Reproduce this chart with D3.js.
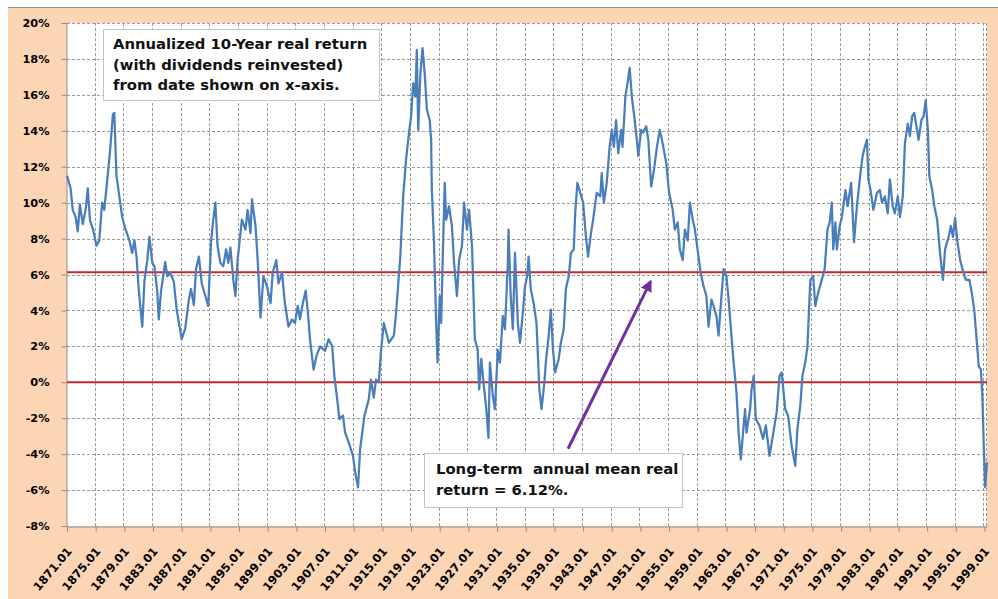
<!DOCTYPE html>
<html>
<head>
<meta charset="utf-8">
<script src="https://cdn.jsdelivr.net/npm/d3@7"></script>
<style>
  body { margin: 0; background: #fff; }
  svg { display: block; }
  .tick text { font-family: "DejaVu Sans", sans-serif; font-weight: bold; fill: #000; }
  .note { font-family: "DejaVu Sans", sans-serif; font-weight: bold; font-size: 14.8px; fill: #111; white-space: pre; }
</style>
</head>
<body>
<script>
// annualized 10-year real return (year, percent)
var years = [
  1871.0, 1871.5, 1871.8, 1872.2, 1872.5, 1872.8, 1873.2, 1873.6, 1873.9, 1874.2,
  1874.7, 1875.1, 1875.5, 1875.9, 1876.2, 1876.8, 1877.0, 1877.4, 1877.6, 1877.9,
  1878.3, 1878.7, 1879.1, 1879.7, 1880.1, 1880.4, 1880.7, 1881.0, 1881.5, 1881.8,
  1882.2, 1882.5, 1882.9, 1883.2, 1883.6, 1883.8, 1884.1, 1884.7, 1885.0, 1885.4,
  1885.9, 1886.3, 1886.7, 1887.0, 1887.5, 1888.0, 1888.3, 1888.7, 1889.0, 1889.4,
  1889.8, 1890.3, 1890.7, 1891.1, 1891.4, 1891.7, 1892.0, 1892.4, 1892.8, 1893.2,
  1893.5, 1893.8, 1894.2, 1894.5, 1894.8, 1895.2, 1895.4, 1895.9, 1896.2, 1896.6,
  1896.8, 1897.3, 1897.6, 1898.0, 1898.4, 1898.9, 1899.4, 1899.7, 1900.2, 1900.5,
  1901.0, 1901.4, 1901.9, 1902.4, 1902.8, 1903.2, 1903.5, 1903.9, 1904.3, 1904.6,
  1904.9, 1905.4, 1905.8, 1906.3, 1907.0, 1907.5, 1908.0, 1908.3, 1908.7, 1909.0,
  1909.5, 1909.8, 1910.3, 1910.9, 1911.2, 1911.6, 1911.9, 1912.5, 1913.1, 1913.4,
  1913.8, 1914.1, 1914.5, 1914.8, 1915.2, 1915.9, 1916.6, 1916.9, 1917.5, 1917.9,
  1918.3, 1918.6, 1919.0, 1919.3, 1919.6, 1919.8, 1920.0, 1920.3, 1920.6, 1920.9,
  1921.2, 1921.6, 1921.8, 1921.9, 1922.2, 1922.5, 1922.7, 1923.0, 1923.2, 1923.4,
  1923.7, 1923.9, 1924.3, 1924.7, 1925.0, 1925.4, 1925.7, 1926.1, 1926.4, 1926.8,
  1927.1, 1927.5, 1927.9, 1928.3, 1928.5, 1928.8, 1929.1, 1929.5, 1929.8, 1930.0,
  1930.4, 1930.7, 1931.1, 1931.4, 1931.8, 1932.1, 1932.5, 1932.6, 1932.9, 1933.2,
  1933.5, 1933.9, 1934.2, 1934.6, 1934.9, 1935.2, 1935.4, 1935.7, 1936.1, 1936.5,
  1936.9, 1937.2, 1937.6, 1937.8, 1938.2, 1938.5, 1938.8, 1939.1, 1939.6, 1939.9,
  1940.3, 1940.6, 1941.0, 1941.3, 1941.7, 1941.9, 1942.2, 1942.6, 1943.0, 1943.4,
  1943.7, 1944.1, 1944.4, 1944.9, 1945.4, 1945.6, 1945.9, 1946.3, 1946.7, 1947.0,
  1947.3, 1947.6, 1947.9, 1948.3, 1948.5, 1948.9, 1949.2, 1949.5, 1949.8, 1950.2,
  1950.5, 1950.7, 1951.1, 1951.4, 1951.8, 1952.1, 1952.5, 1952.9, 1953.3, 1953.7,
  1954.1, 1954.6, 1955.0, 1955.5, 1955.8, 1956.2, 1956.5, 1956.9, 1957.2, 1957.6,
  1957.9, 1958.3, 1958.6, 1959.1, 1959.4, 1959.8, 1960.2, 1960.5, 1960.9, 1961.2,
  1961.6, 1961.9, 1962.2, 1962.6, 1963.0, 1963.3, 1963.6, 1964.0, 1964.4, 1964.7,
  1965.0, 1965.4, 1965.6, 1965.8, 1966.3, 1966.5, 1966.8, 1967.1, 1967.6, 1968.1,
  1968.5, 1969.0, 1969.4, 1970.0, 1970.4, 1970.7, 1971.2, 1971.6, 1972.1, 1972.6,
  1972.9, 1973.3, 1973.6, 1974.0, 1974.3, 1974.7, 1975.1, 1975.4, 1975.8, 1976.3,
  1976.7, 1977.1, 1977.4, 1977.7, 1977.9, 1978.2, 1978.4, 1978.8, 1979.1, 1979.6,
  1979.9, 1980.4, 1980.8, 1981.2, 1981.7, 1982.0, 1982.3, 1982.6, 1982.8, 1983.1,
  1983.5, 1984.0, 1984.4, 1984.7, 1985.1, 1985.5, 1985.8, 1986.2, 1986.5, 1986.9,
  1987.2, 1987.6, 1987.9, 1988.3, 1988.6, 1988.9, 1989.2, 1989.6, 1989.8, 1990.2,
  1990.5, 1990.8, 1991.1, 1991.3, 1991.7, 1992.0, 1992.4, 1992.8, 1993.2, 1993.5,
  1994.0, 1994.3, 1994.6, 1994.9, 1995.2, 1995.6, 1996.0, 1996.4, 1996.9, 1997.3,
  1997.6, 1997.9, 1998.2, 1998.5, 1998.7, 1998.9, 1999.1, 1999.35
];
var returns = [
  11.5, 10.8, 9.6, 9.2, 8.4, 9.9, 8.8, 9.6, 10.8, 9.05,
  8.4, 7.6, 7.9, 10.0, 9.6, 12.0, 12.85, 14.9, 15.0, 11.5,
  10.35, 9.2, 8.6, 7.9, 7.2, 7.9, 7.0, 5.2, 3.1, 5.6,
  6.8, 8.1, 6.65, 6.45, 5.0, 3.5, 5.0, 6.7, 5.9, 6.1,
  5.6, 4.05, 3.1, 2.4, 3.0, 4.6, 5.2, 4.3, 6.3, 7.0,
  5.5, 4.8, 4.25, 7.8, 9.05, 10.0, 7.6, 6.65, 6.45, 7.4,
  6.65, 7.5, 5.7, 4.8, 6.8, 8.3, 9.05, 8.5, 9.6, 8.3,
  10.2, 8.7, 6.8, 3.6, 5.9, 5.35, 4.4, 6.1, 6.8, 5.5,
  6.1, 4.4, 3.1, 3.5, 3.3, 4.25, 3.5, 4.4, 5.1, 3.9,
  2.4, 0.7, 1.45, 2.0, 1.75, 2.4, 2.0, 0.35, -0.95, -2.05,
  -1.85, -2.8, -3.35, -4.1, -5.0, -5.85, -3.7, -1.85, -0.95, 0.15,
  -0.85, 0.15, 0.0, 1.7, 3.3, 2.2, 2.6, 3.8, 7.0, 10.35,
  12.4, 13.5, 14.8, 16.65, 15.9, 18.5, 14.05, 17.2, 18.6, 17.2,
  15.2, 14.6, 13.5, 10.7, 7.8, 3.3, 1.1, 4.8, 3.3, 6.65,
  11.1, 9.05, 9.8, 8.7, 6.65, 4.8, 6.8, 7.6, 10.0, 8.5,
  9.6, 7.6, 2.4, 1.8, -0.4, 1.3, 0.0, -1.5, -3.1, 1.1,
  -0.75, -1.5, 1.8, 1.1, 3.7, 2.95, 6.65, 8.5, 4.8, 2.95,
  7.2, 3.3, 2.2, 3.9, 5.35, 5.9, 7.0, 5.2, 4.4, 3.3,
  -0.4, -1.5, 0.0, 1.1, 2.6, 4.05, 1.8, 0.55, 1.3, 2.2,
  2.95, 5.2, 5.9, 7.2, 7.4, 9.4, 11.1, 10.55, 10.0, 8.1,
  7.0, 8.3, 9.05, 10.55, 10.35, 11.65, 10.0, 11.1, 13.1, 14.05,
  13.1, 14.6, 12.75, 14.05, 13.1, 15.9, 16.65, 17.5, 15.9, 14.6,
  13.5, 12.6, 14.05, 13.9, 14.25, 13.5, 10.9, 11.85, 13.1, 14.05,
  13.3, 12.2, 10.55, 9.6, 8.5, 8.9, 7.4, 6.8, 8.5, 7.9,
  10.0, 9.05, 8.5, 7.0, 6.1, 5.35, 4.8, 3.1, 4.6, 4.25,
  3.7, 2.6, 4.25, 6.3, 5.9, 4.6, 3.1, 1.1, -0.55, -2.8,
  -4.3, -2.4, -1.5, -2.8, -1.5, -0.4, 0.35, -2.05, -2.4, -3.15,
  -2.4, -4.1, -3.15, -1.7, 0.35, 0.55, -1.5, -1.85, -3.55, -4.65,
  -2.6, -1.3, 0.35, 1.1, 2.0, 5.7, 5.9, 4.25, 5.0, 5.7,
  6.3, 8.5, 8.9, 10.0, 7.4, 8.9, 7.4, 8.7, 9.2, 10.7,
  9.8, 11.1, 7.8, 9.8, 11.65, 12.6, 13.1, 13.5, 11.3, 10.7,
  9.6, 10.55, 10.7, 10.0, 10.35, 9.4, 11.3, 9.8, 9.4, 10.35,
  9.2, 10.35, 13.3, 14.4, 13.7, 14.8, 15.0, 14.05, 13.5, 14.6,
  14.8, 15.7, 14.05, 11.5, 10.7, 9.8, 9.05, 7.2, 5.7, 7.4,
  8.1, 8.7, 8.1, 9.15, 7.9, 6.8, 6.2, 5.7, 5.7, 4.8,
  3.9, 2.4, 0.9, 0.7, -0.75, -3.55, -5.85, -4.45
];
var tickYears = d3.range(1871, 2000, 4);
var yTicks = d3.range(-8, 21, 2);
var meanReturn = 6.12;
var note1 = ["Annualized 10-Year real return", "(with dividends reinvested)", "from date shown on x-axis."];
var note2 = ["Long-term  annual mean real", "return = 6.12%."];

var W = 998, H = 599;
var plotL = 67, plotR = 987, plotT = 23, plotB = 526;

var svg = d3.select("body").append("svg")
  .attr("width", W)
  .attr("height", H);

// chart area
svg.append("rect")
  .attr("x", 8).attr("y", 8)
  .attr("width", W - 8).attr("height", H - 8)
  .attr("fill", "#fcd5b5");
svg.append("line")
  .attr("x1", 8).attr("x2", W)
  .attr("y1", 7.5).attr("y2", 7.5)
  .attr("stroke", "#8c8c8c");

// plot area
svg.append("rect")
  .attr("x", plotL).attr("y", plotT)
  .attr("width", plotR - plotL).attr("height", plotB - plotT)
  .attr("fill", "#fff");

var x = d3.scaleLinear().domain([1871, 1999.35]).range([plotL, plotR]);
var y = d3.scaleLinear().domain([-8, 20]).range([plotB, plotT]);

// gridlines
svg.append("g")
  .selectAll("line")
  .data(yTicks.slice(1))
  .enter()
  .append("line")
  .attr("x1", plotL).attr("x2", plotR)
  .attr("y1", function(d) { return Math.round(y(d)) + 0.5; })
  .attr("y2", function(d) { return Math.round(y(d)) + 0.5; })
  .attr("stroke", "#9a9a9a")
  .attr("stroke-dasharray", "3,2");
svg.append("g")
  .selectAll("line")
  .data(tickYears.slice(1).concat([1999.35]))
  .enter()
  .append("line")
  .attr("x1", function(d) { return Math.round(x(d)) - 0.5; })
  .attr("x2", function(d) { return Math.round(x(d)) - 0.5; })
  .attr("y1", plotT).attr("y2", plotB)
  .attr("stroke", "#9a9a9a")
  .attr("stroke-dasharray", "3,2");

// axes
var yAxis = d3.axisLeft(y)
  .tickValues(yTicks)
  .tickSize(5)
  .tickPadding(12)
  .tickFormat(function(d) { return d + "%"; });
svg.append("g")
  .attr("transform", "translate(" + (plotL - 0.5) + ",0)")
  .call(yAxis)
  .call(function(g) {
    g.select(".domain").attr("stroke", "#8c8c8c");
    g.selectAll(".tick line").attr("stroke", "#8c8c8c");
    g.selectAll(".tick text").style("font-size", "11.3px");
  });

var xAxis = d3.axisBottom(x)
  .tickValues(tickYears)
  .tickSize(5)
  .tickSizeOuter(0)
  .tickFormat(function(d) { return d + ".01"; });
svg.append("g")
  .attr("transform", "translate(0," + (plotB + 0.5) + ")")
  .call(xAxis)
  .call(function(g) {
    g.select(".domain").attr("stroke", "#8c8c8c");
    g.selectAll(".tick line").attr("stroke", "#8c8c8c");
    g.selectAll(".tick text")
      .style("font-size", "11.5px")
      .attr("text-anchor", "end")
      .attr("x", 0).attr("y", 0).attr("dy", 0)
      .attr("transform", "translate(5,25) rotate(-50)");
  });

// reference lines at 0% and the long-term mean
svg.append("g")
  .selectAll("line")
  .data([0, meanReturn])
  .enter()
  .append("line")
  .attr("x1", plotL).attr("x2", plotR)
  .attr("y1", function(d) { return y(d); })
  .attr("y2", function(d) { return y(d); })
  .attr("stroke", "#c3282d")
  .attr("stroke-width", 2);

// the series
var points = years.map(function(yr, i) { return [yr, returns[i]]; });
var line = d3.line()
  .x(function(d) { return x(d[0]); })
  .y(function(d) { return y(d[1]); });
svg.append("path")
  .datum(points)
  .attr("d", line)
  .attr("fill", "none")
  .attr("stroke", "#4a7ebb")
  .attr("stroke-width", 2.25)
  .attr("stroke-linejoin", "round");

// note boxes
function noteBox(bx, by, bw, bh, lines, tx, ty) {
  svg.append("rect")
    .attr("x", bx + 0.5).attr("y", by + 0.5)
    .attr("width", bw).attr("height", bh)
    .attr("fill", "#fff")
    .attr("stroke", "#c4c4c4");
  svg.append("g")
    .selectAll("text")
    .data(lines)
    .enter()
    .append("text")
    .attr("class", "note")
    .attr("x", tx)
    .attr("y", function(d, i) { return ty + i * 20.7; })
    .text(function(d) { return d; });
}
noteBox(103, 29, 276, 71, note1, 113, 49);
noteBox(424, 453, 258, 54, note2, 436, 474);

// arrow to the mean line
svg.append("defs").append("marker")
  .attr("id", "head")
  .attr("viewBox", "0 0 10 10")
  .attr("refX", 8).attr("refY", 5)
  .attr("markerWidth", 4).attr("markerHeight", 4)
  .attr("orient", "auto")
  .append("path")
  .attr("d", "M0,0 L10,5 L0,10 Z")
  .attr("fill", "#7030a0");
svg.append("line")
  .attr("x1", x(1940.9)).attr("y1", y(-3.7))
  .attr("x2", x(1952.4)).attr("y2", y(5.6))
  .attr("stroke", "#7030a0")
  .attr("stroke-width", 3)
  .attr("marker-end", "url(#head)");
</script>
</body>
</html>
